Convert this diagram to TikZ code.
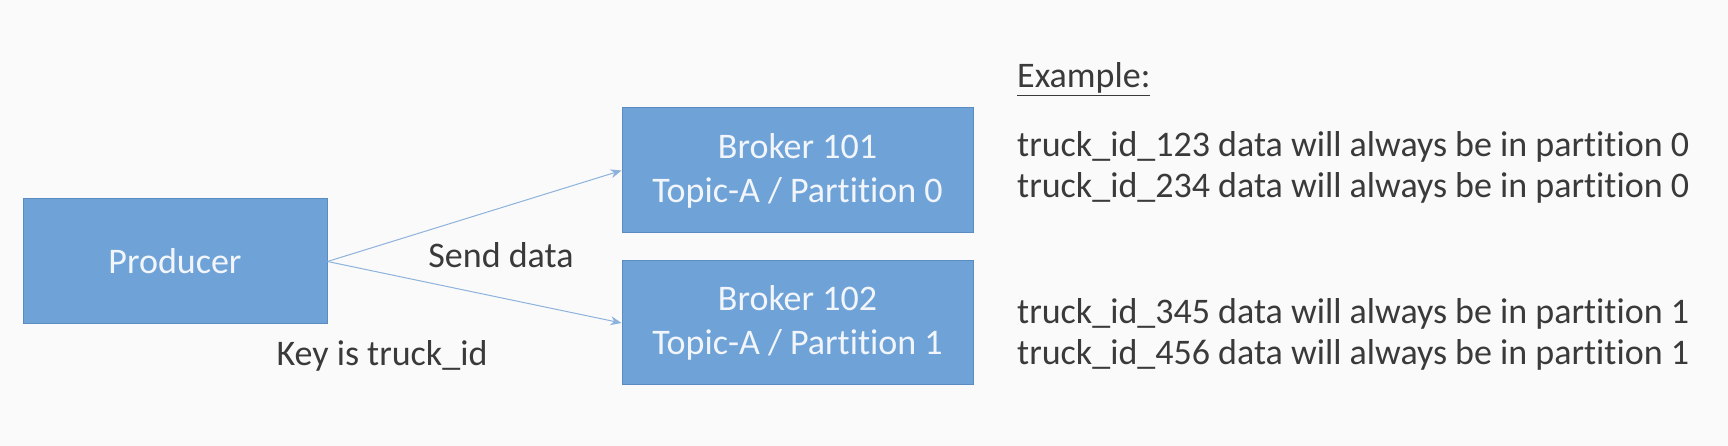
\documentclass[tikz,border=0pt]{standalone}
\usepackage{fontspec}
\setmainfont{Carlito}[Ligatures=NoCommon]
\usetikzlibrary{arrows.meta}
\definecolor{bg}{HTML}{FAFAFA}
\definecolor{boxfill}{HTML}{6FA3D8}
\definecolor{boxline}{HTML}{5A8CC2}
\definecolor{boxtext}{HTML}{F2F6FA}
\definecolor{txt}{HTML}{3A3A3A}
\definecolor{arr}{HTML}{8DB3DC}
\tikzset{
  box/.style={draw=boxline, line width=1pt, fill=boxfill, text=boxtext, align=center, inner sep=0pt, font=\fontsize{36}{44}\selectfont},
  lbl/.style={text=txt, inner sep=0pt, font=\fontsize{36}{44}\selectfont},
  conn/.style={draw=arr, line width=1pt, -{Stealth[length=11pt,width=9pt]}}
}
\begin{document}
\begin{tikzpicture}[x=1pt,y=1pt]
\fill[bg] (0,0) rectangle (1728,446);
\useasboundingbox (0,0) rectangle (1728,446);
\node[box, minimum width=304pt, minimum height=125pt] (prod) at (175,184.5) {Producer};
\node[box, minimum width=351pt, minimum height=125pt] (b1) at (797.5,275.5) {Broker 101\\Topic-A / Partition 0};
\node[box, minimum width=351pt, minimum height=124pt] (b2) at (797.5,123) {Broker 102\\Topic-A / Partition 1};
\draw[conn] (prod.east) -- (b1.west);
\draw[conn] (prod.east) -- (b2.west);
\node[lbl] (send) at (501,191) {Send data};
\node[lbl] (key) at (382,90) {Key is truck\_id};
\node[lbl, anchor=west] (ex) at (1017,367) {\underline{Example:}};
\node[lbl, anchor=west] (l1) at (1017,299) {truck\_id\_123 data will always be in partition 0};
\node[lbl, anchor=west] (l2) at (1017,258) {truck\_id\_234 data will always be in partition 0};
\node[lbl, anchor=west] (l3) at (1017,132) {truck\_id\_345 data will always be in partition 1};
\node[lbl, anchor=west] (l4) at (1017,91) {truck\_id\_456 data will always be in partition 1};
\end{tikzpicture}
\end{document}
